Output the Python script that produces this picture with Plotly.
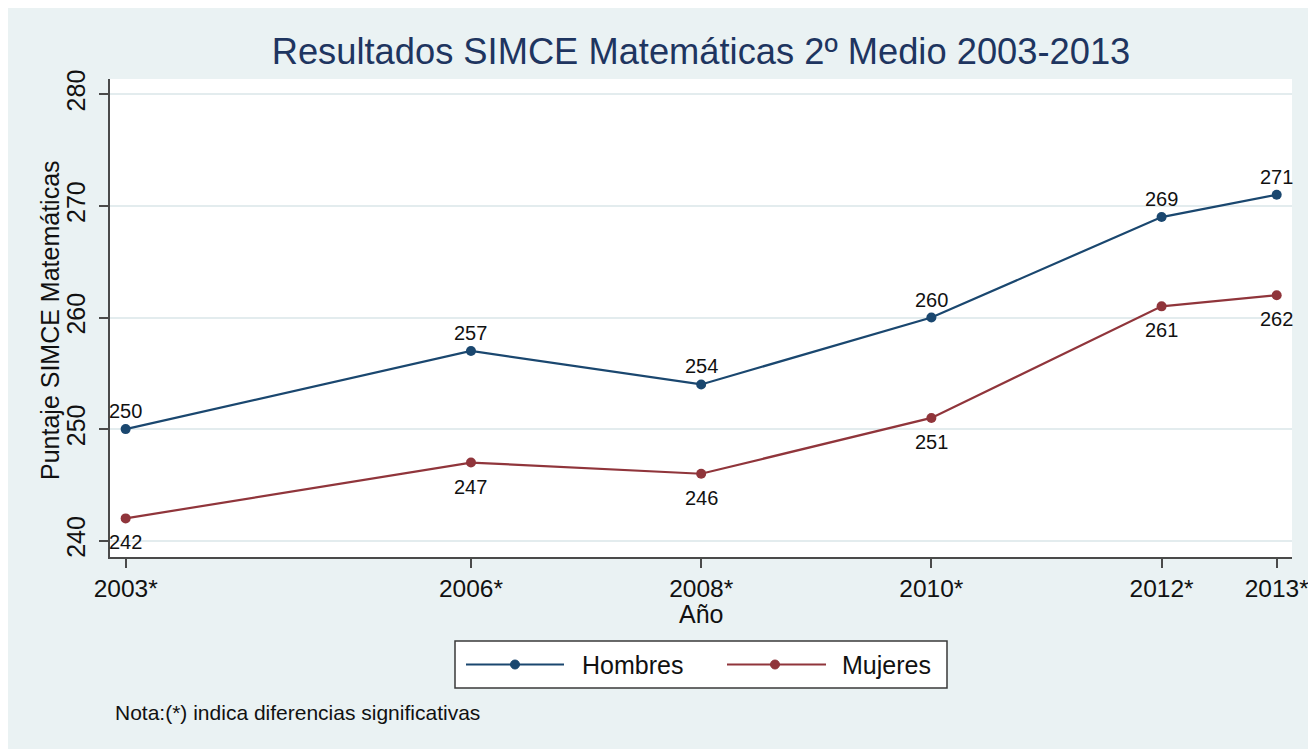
import plotly.graph_objects as go

# ---- data ----
years = [2003, 2006, 2008, 2010, 2012, 2013]
year_labels = ["2003*", "2006*", "2008*", "2010*", "2012*", "2013*"]
hombres = [250, 257, 254, 260, 269, 271]
mujeres = [242, 247, 246, 251, 261, 262]
y_ticks = [240, 250, 260, 270, 280]
series_names = ["Hombres", "Mujeres"]

# ---- style ----
# page body adds an 8px offset; figure fills the rest of the window
OFF = 8
W, H = 1316 - OFF, 749 - OFF
L, R, T, B = 110, 1292, 79, 557          # plot area in window pixels
BG = "#EAF2F3"
NAVY = "#1A476F"
MAROON = "#90353B"
AXIS = "#4a4a4a"
GRID = "#E3ECEE"
FONT = "Arial, Liberation Sans, sans-serif"
TXT = "#111111"


def px_x(p):
    return (p - L) / (R - L)


def px_y(p):
    return (B - p) / (B - T)


fig = go.Figure()
for name, vals, col in [(series_names[0], hombres, NAVY), (series_names[1], mujeres, MAROON)]:
    fig.add_trace(go.Scatter(
        x=years, y=vals, name=name, mode="lines+markers",
        line=dict(color=col, width=2.2),
        marker=dict(color=col, size=10, symbol="circle"),
        cliponaxis=False, showlegend=False,
    ))

annotations = []
# data labels (placed on data coordinates)
for x, v in zip(years, hombres):
    annotations.append(dict(x=x, y=v, xref="x", yref="y", text=str(v), showarrow=False,
                            yshift=18, xanchor="center", yanchor="middle",
                            font=dict(size=20, color=TXT, family=FONT)))
for x, v in zip(years, mujeres):
    annotations.append(dict(x=x, y=v, xref="x", yref="y", text=str(v), showarrow=False,
                            yshift=-24, xanchor="center", yanchor="middle",
                            font=dict(size=20, color=TXT, family=FONT)))

shapes = [
    dict(type="rect", xref="paper", yref="paper", x0=px_x(455), x1=px_x(947),
         y0=px_y(688), y1=px_y(641), fillcolor="white",
         line=dict(color="#3a3a3a", width=1.5)),
]
legend_items = [(466, 564, 515, 580, NAVY, series_names[0]),
                (727, 826, 775, 840, MAROON, series_names[1])]
ly = px_y(664.5)
for x0, x1, xm, xt, col, name in legend_items:
    shapes.append(dict(type="line", xref="paper", yref="paper", x0=px_x(x0), x1=px_x(x1),
                       y0=ly, y1=ly, line=dict(color=col, width=2.2)))
    shapes.append(dict(type="circle", xref="paper", yref="paper",
                       xsizemode="pixel", ysizemode="pixel",
                       xanchor=px_x(xm), yanchor=ly, x0=-4.5, x1=4.5, y0=-4.5, y1=4.5,
                       fillcolor=col, line=dict(color=col, width=1)))
    annotations.append(dict(xref="paper", yref="paper", x=px_x(xt), y=ly,
                            xanchor="left", yanchor="middle", showarrow=False,
                            text=name, font=dict(size=25, color=TXT, family=FONT)))

annotations.append(dict(xref="paper", yref="paper", x=px_x(113), y=px_y(712),
                        xanchor="left", yanchor="middle", showarrow=False,
                        text="Nota:(*) indica diferencias significativas",
                        font=dict(size=21, color=TXT, family=FONT)))
# axis titles
annotations.append(dict(xref="paper", yref="paper", x=0.5, y=px_y(614),
                        xanchor="center", yanchor="middle", showarrow=False,
                        text="Año", font=dict(size=25, color=TXT, family=FONT)))
annotations.append(dict(xref="paper", yref="paper", x=px_x(50), y=px_y(320),
                        xanchor="center", yanchor="middle", showarrow=False, textangle=-90,
                        text="Puntaje SIMCE Matemáticas",
                        font=dict(size=25, color=TXT, family=FONT)))

fig.update_layout(
    width=W, height=H,
    margin=dict(l=L - OFF, r=W - (R - OFF), t=T - OFF, b=H - (B - OFF), autoexpand=False),
    paper_bgcolor=BG, plot_bgcolor="white",
    font=dict(family=FONT, color=TXT),
    title=dict(text="Resultados SIMCE Matemáticas 2º Medio 2003-2013",
               x=0.5, xref="paper", xanchor="center",
               y=1 - (51 - OFF) / H, yref="container", yanchor="middle",
               font=dict(size=36.3, color="#1E3560", family=FONT)),
    xaxis=dict(
        range=[2002.864, 2013.133], tickmode="array",
        tickvals=years, ticktext=year_labels,
        ticks="outside", ticklen=9, tickwidth=1.5, tickcolor=AXIS,
        showline=True, linecolor=AXIS, linewidth=1.5,
        showgrid=False, zeroline=False,
        tickfont=dict(size=24.5, color=TXT),
    ),
    yaxis=dict(
        range=[238.54, 281.37], tickmode="array", tickvals=y_ticks,
        ticktext=[str(v) for v in y_ticks], tickangle=-90,
        ticks="outside", ticklen=9, tickwidth=1.5, tickcolor=AXIS,
        ticklabelstandoff=4,
        showline=True, linecolor=AXIS, linewidth=1.5,
        showgrid=True, gridcolor=GRID, gridwidth=1.5, zeroline=False,
        tickfont=dict(size=25, color=TXT),
    ),
    shapes=shapes, annotations=annotations,
)

fig.write_html("out.html")
